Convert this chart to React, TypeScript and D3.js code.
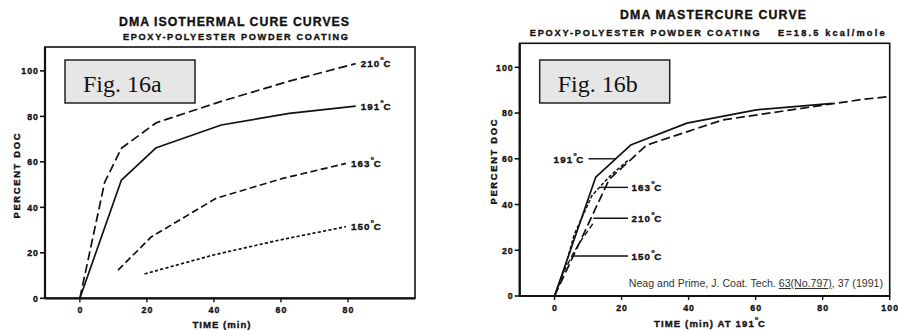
import React from "react";
import * as d3 from "d3";

// ---- Fig. 16a: isothermal cure, percent DOC vs time (min) ----
const isoT210: [number, number][] = [[0, 0], [7.4, 51], [12.4, 66], [22.8, 77.2], [42, 86.5], [62.5, 95.5], [82.3, 103.2]];
const isoT191: [number, number][] = [[0, 0], [12.4, 52], [22.8, 66.2], [42.2, 76.2], [62.5, 81.3], [82.3, 84.5]];
const isoT163: [number, number][] = [[11.4, 12.4], [21.3, 27], [40.7, 44], [60.5, 52.7], [79.4, 59.3]];
const isoT150: [number, number][] = [[19.3, 10.7], [39.7, 19], [59.5, 25.6], [79.4, 31.5]];

// ---- Fig. 16b: mastercurve, time shifted to 191 °C ----
const mcT191: [number, number][] = [[0, 0], [12.3, 52], [22.7, 66], [39.5, 75.6], [60.2, 81.4], [83, 84.2]];
const mcT210: [number, number][] = [[0, 0], [16.3, 51], [27.5, 66], [50.2, 77], [92, 86], [100, 87.2]];
const mcT163: [number, number][] = [[0, 0], [3.1, 12.4], [5.9, 27], [11.2, 44], [16.7, 52.7], [21.9, 59.3]];
const mcT150: [number, number][] = [[0, 0], [2.8, 10.7], [5.7, 19], [8.5, 25.6], [11.4, 31.5]];

const xTicks = [0, 20, 40, 60, 80];
const xTicksB = [0, 20, 40, 60, 80, 100];
const yTicks = [0, 20, 40, 60, 80, 100];

// curve-end labels for 16a: [temperature, t, value]
const isoLabels: [string, number, number][] = [["210", 82.3, 103.2], ["191", 82.3, 84.5], ["163", 79.4, 59.3], ["150", 79.4, 31.5]];
// leader labels for 16b: [temperature, t at curve, value, side]
const mcLabels: [string, number, number, string][] = [
  ["191", 18.2, 60, "left"],
  ["163", 13.4, 47.5, "right"],
  ["210", 11.6, 34, "right"],
  ["150", 5.6, 17.5, "right"],
];

const INK = "#111";
const LBL = "'Liberation Sans', Arial, sans-serif";
const HEAVY = { stroke: INK, strokeWidth: 0.35, paintOrder: "stroke" } as const;

const dashes: Record<string, string> = {
  t210: "9,4",
  t191: "none",
  t163: "7,3.5",
  t150: "3.2,2.2",
  m163: "3.5,2",
  m150: "5.5,3",
};

function Deg({ temp, x, y, anchor = "start" }: { temp: string; x: number; y: number; anchor?: string }) {
  return (
    <text x={x} y={y} textAnchor={anchor} fontFamily={LBL} fontWeight="bold" fontSize={9.8} letterSpacing={1.1} fill={INK} {...HEAVY}>
      {temp}
      <tspan fontSize={9} dy={-4} letterSpacing={-0.5}>°</tspan>
      <tspan dy={4}>C</tspan>
    </text>
  );
}

type PanelProps = {
  x0: number; x1: number; y0: number; y1: number;
  xt: number[];
  children: (x: d3.ScaleLinear<number, number>, y: d3.ScaleLinear<number, number>) => React.ReactNode;
};

function Panel({ x0, x1, y0, y1, xt, children }: PanelProps) {
  const x = d3.scaleLinear().domain([-10.4, 100]).range([x0, x1]);
  const y = d3.scaleLinear().domain([0, 110.5]).range([y1, y0]);
  return (
    <g>
      <rect x={x0} y={y0} width={x1 - x0} height={y1 - y0} fill="none" stroke={INK} strokeWidth={1.6} />
      <line x1={x0} x2={x0} y1={y0} y2={y1} stroke={INK} strokeWidth={2.2} />
      <line x1={x0} x2={x1} y1={y1} y2={y1} stroke={INK} strokeWidth={2.2} />
      {yTicks.map((v) => (
        <g key={v}>
          <line x1={x0 - 5} x2={x0} y1={y(v)} y2={y(v)} stroke={INK} strokeWidth={1.6} />
          <text x={x0 - 6} y={y(v) + 3.3} textAnchor="end" fontFamily={LBL} fontWeight="bold" fontSize={8.8} letterSpacing={1} fill={INK} {...HEAVY}>{v}</text>
        </g>
      ))}
      {xt.map((v) => (
        <g key={v}>
          <line x1={x(v)} x2={x(v)} y1={y1} y2={y1 + 4} stroke={INK} strokeWidth={1.4} />
          <text x={x(v) + 0.5} y={y1 + 15} textAnchor="middle" fontFamily={LBL} fontWeight="bold" fontSize={8.8} letterSpacing={1} fill={INK} {...HEAVY}>{v}</text>
        </g>
      ))}
      {children(x, y)}
    </g>
  );
}

function Curve({ pts, x, y, dash, w = 1.7 }: { pts: [number, number][]; x: any; y: any; dash: string; w?: number }) {
  const line = d3.line<[number, number]>().x((d) => x(d[0])).y((d) => y(d[1]));
  return <path d={line(pts) || ""} fill="none" stroke={INK} strokeWidth={w} strokeDasharray={dash} strokeLinejoin="round" />;
}

function FigBox({ x, y, label }: { x: number; y: number; label: string }) {
  return (
    <g>
      <rect x={x} y={y} width={130} height={43} fill="#e6e6e6" stroke="#222" strokeWidth={1.5} />
      <text x={x + 18} y={y + 32} fontFamily="'Liberation Serif', 'Times New Roman', serif" fontSize={24} fill="#111">{label}</text>
    </g>
  );
}

export default function App() {
  return (
    <svg width={898} height={330} style={{ position: "absolute", left: 0, top: 0, background: "#fff" }}>
      <rect width={898} height={330} fill="#fff" />

      {/* Fig. 16a */}
      <text x={234} y={25.8} textAnchor="middle" fontFamily={LBL} fontWeight="bold" fontSize={12.3} textLength={230} lengthAdjust="spacing" fill={INK} {...HEAVY}>DMA ISOTHERMAL CURE CURVES</text>
      <text x={235.5} y={39.5} textAnchor="middle" fontFamily={LBL} fontWeight="bold" fontSize={9.2} textLength={225} lengthAdjust="spacing" fill={INK} {...HEAVY}>EPOXY-POLYESTER POWDER COATING</text>
      <Panel x0={45} x1={415} y0={47} y1={298.3} xt={xTicks}>
        {(x, y) => (
          <g>
            <Curve pts={isoT210} x={x} y={y} dash={dashes.t210} />
            <Curve pts={isoT191} x={x} y={y} dash={dashes.t191} />
            <Curve pts={isoT163} x={x} y={y} dash={dashes.t163} />
            <Curve pts={isoT150} x={x} y={y} dash={dashes.t150} />
            {isoLabels.map(([t, tx, v]) => (
              <Deg key={t} temp={t} x={x(tx) + 5} y={y(v) + 3.8} />
            ))}
          </g>
        )}
      </Panel>
      <text transform="translate(20,176) rotate(-90)" textAnchor="middle" fontFamily={LBL} fontWeight="bold" fontSize={9.4} textLength={85} lengthAdjust="spacing" fill={INK} {...HEAVY}>PERCENT DOC</text>
      <text x={222} y={327.5} textAnchor="middle" fontFamily={LBL} fontWeight="bold" fontSize={9.6} letterSpacing={1} fill={INK} {...HEAVY}>TIME (min)</text>
      <FigBox x={65} y={60} label="Fig. 16a" />

      {/* Fig. 16b */}
      <text x={713} y={19.2} textAnchor="middle" fontFamily={LBL} fontWeight="bold" fontSize={12.3} textLength={186} lengthAdjust="spacing" fill={INK} {...HEAVY}>DMA MASTERCURE CURVE</text>
      <text x={529.7} y={36.3} fontFamily={LBL} fontWeight="bold" fontSize={9.2} textLength={230} lengthAdjust="spacing" fill={INK} {...HEAVY}>EPOXY-POLYESTER POWDER COATING</text>
      <text x={778} y={36.3} fontFamily={LBL} fontWeight="bold" fontSize={9.2} textLength={106.5} lengthAdjust="spacing" fill={INK} {...HEAVY}>E=18.5 kcal/mole</text>
      <Panel x0={519.7} x1={889.7} y0={43.3} y1={296} xt={xTicksB}>
        {(x, y) => (
          <g>
            <Curve pts={mcT210} x={x} y={y} dash={dashes.t210} />
            <Curve pts={mcT191} x={x} y={y} dash={dashes.t191} />
            <Curve pts={mcT163} x={x} y={y} dash={dashes.m163} w={1.5} />
            <Curve pts={mcT150} x={x} y={y} dash={dashes.m150} w={1.4} />
            {mcLabels.map(([t, tx, v, side]) =>
              side === "left" ? (
                <g key={t}>
                  <line x1={x(tx)} x2={x(tx) - 27} y1={y(v)} y2={y(v)} stroke={INK} strokeWidth={1.4} />
                  <Deg temp={t} x={x(tx) - 31} y={y(v) + 3.8} anchor="end" />
                </g>
              ) : (
                <g key={t}>
                  <line x1={x(tx)} x2={628} y1={y(v)} y2={y(v)} stroke={INK} strokeWidth={1.4} />
                  <Deg temp={t} x={631.5} y={y(v) + 3.8} />
                </g>
              )
            )}
          </g>
        )}
      </Panel>
      <text transform="translate(496.5,162) rotate(-90)" textAnchor="middle" fontFamily={LBL} fontWeight="bold" fontSize={9.4} textLength={85} lengthAdjust="spacing" fill={INK} {...HEAVY}>PERCENT DOC</text>
      <text x={710} y={327} textAnchor="middle" fontFamily={LBL} fontWeight="bold" fontSize={9.6} letterSpacing={1.1} fill={INK} {...HEAVY}>
        TIME (min) AT 191<tspan fontSize={9} dy={-4} letterSpacing={-0.5}>°</tspan><tspan dy={4}>C</tspan>
      </text>
      <FigBox x={539.7} y={60} label="Fig. 16b" />
      <text x={883} y={287} textAnchor="end" fontFamily={LBL} fontSize={10.6} fill="#333">
        Neag and Prime, J. Coat. Tech. <tspan textDecoration="underline">63(No.797)</tspan>, 37 (1991)
      </text>
    </svg>
  );
}
